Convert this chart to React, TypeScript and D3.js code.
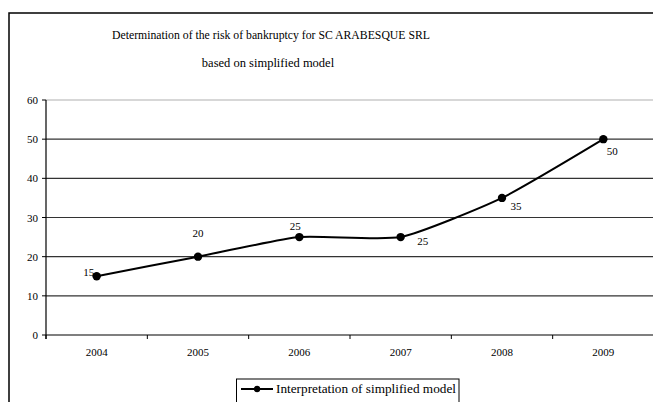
import React from "react";
import * as d3 from "d3";

const categories = ["2004", "2005", "2006", "2007", "2008", "2009"];
const values = [15, 20, 25, 25, 35, 50];
const yTicks = [0, 10, 20, 30, 40, 50, 60];
const seriesName = "Interpretation of simplified model";
const titleLines = [
  "Determination of the risk of bankruptcy for SC ARABESQUE SRL",
  "based on simplified model",
];
// label offsets (dx, dy of text center relative to the point)
const labelDx = [-8, 0, -4, 22, 14, 9];
const labelDy = [-4.5, -23.5, -11.5, 3.5, 8, 11.5];

const W = 653;
const H = 402;
const font = "Liberation Serif";

export default function App() {
  const x = d3.scaleBand<string>().domain(categories).range([46, 654]);
  const y = d3.scaleLinear().domain([0, 60]).range([335, 100]);
  const cx = (c: string) => (x(c) as number) + x.bandwidth() / 2;
  const pts: [number, number][] = categories.map((c, i) => [cx(c), y(values[i])]);
  const line = d3.line().curve(d3.curveCardinal.tension(0.45))(pts) as string;
  const bounds = [...categories.map((c) => x(c) as number), 654];

  return (
    <svg width={W} height={H} style={{ position: "fixed", left: 0, top: 0, background: "#fff" }}>
      <rect x={0} y={0} width={W} height={H} fill="#fff" />
      {/* outer chart border */}
      <rect x={9} y={13} width={700} height={450} fill="none" stroke="#000" strokeWidth={1.5} />

      {/* title */}
      <text fontFamily={font} x={271} y={39} textAnchor="middle" fontSize={12.5} textLength={318} lengthAdjust="spacingAndGlyphs">
        {titleLines[0]}
      </text>
      <text fontFamily={font} x={268} y={67} textAnchor="middle" fontSize={12.5}>
        {titleLines[1]}
      </text>

      {/* gridlines and y axis labels */}
      {yTicks.map((t) => (
        <g key={t}>
          {t > 0 && (
            <line
              x1={46}
              x2={660}
              y1={y(t)}
              y2={y(t)}
              stroke={t === 60 ? "#b0b0b0" : "#333"}
              strokeWidth={1.2}
            />
          )}
          <line x1={42} x2={46} y1={y(t)} y2={y(t)} stroke="#000" strokeWidth={1} />
          <text fontFamily={font} x={38} y={y(t) + 4} textAnchor="end" fontSize={11}>
            {t}
          </text>
        </g>
      ))}

      {/* axes */}
      <line x1={46} x2={660} y1={y(0)} y2={y(0)} stroke="#555" strokeWidth={1.5} />
      <line x1={46} x2={46} y1={y(60)} y2={y(0) + 4} stroke="#000" strokeWidth={1.2} />
      {bounds.map((b, i) => (
        <line key={i} x1={b} x2={b} y1={y(0)} y2={y(0) + 4} stroke="#000" strokeWidth={1} />
      ))}
      {categories.map((c) => (
        <text fontFamily={font} key={c} x={cx(c)} y={356} textAnchor="middle" fontSize={11}>
          {c}
        </text>
      ))}

      {/* series */}
      <path d={line} fill="none" stroke="#000" strokeWidth={2} />
      {pts.map(([px, py], i) => (
        <circle key={i} cx={px} cy={py} r={4.2} fill="#000" />
      ))}
      {pts.map(([px, py], i) => (
        <text
          fontFamily={font}
          key={"l" + i}
          x={px + labelDx[i]}
          y={py + labelDy[i] + 4}
          textAnchor="middle"
          fontSize={11}
        >
          {values[i]}
        </text>
      ))}

      {/* legend */}
      <rect x={236.5} y={379} width={222.5} height={40} fill="#fff" stroke="#000" strokeWidth={1} />
      <line x1={241} x2={273} y1={389} y2={389} stroke="#000" strokeWidth={2} />
      <circle cx={257} cy={389} r={3.2} fill="#000" />
      <text fontFamily={font} x={276} y={393} fontSize={12} textLength={180} lengthAdjust="spacingAndGlyphs">
        {seriesName}
      </text>
    </svg>
  );
}
